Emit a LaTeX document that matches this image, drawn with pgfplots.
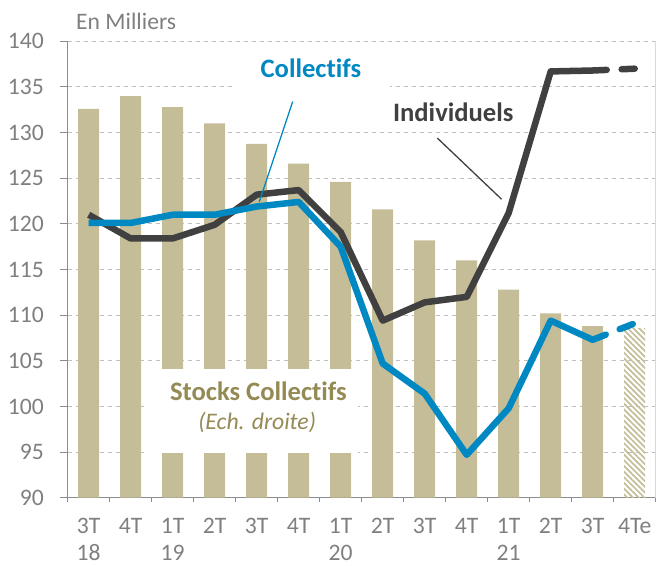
\documentclass[border=0pt]{standalone}
\usepackage{fontspec}
\setmainfont{Carlito}[Ligatures=NoCommon]
\usepackage{pgfplots}
\pgfplotsset{compat=1.18}
\usetikzlibrary{patterns.meta}

\definecolor{tanbar}{HTML}{C4BD97}
\definecolor{tanlab}{HTML}{948A54}
\definecolor{bluec}{HTML}{0088C2}
\definecolor{darkg}{HTML}{404040}
\definecolor{gridc}{HTML}{BFBFBF}
\definecolor{labc}{HTML}{7F7F7F}
\definecolor{axc}{HTML}{8C8C8C}
\definecolor{rightc}{HTML}{D9D9D9}

\begin{document}
\begin{tikzpicture}
\begin{axis}[
  scale only axis, width=588bp, height=456.4bp,
  xmin=-0.5, xmax=13.5, ymin=90, ymax=140,
  axis x line*=bottom, axis y line*=left,
  axis line style={axc, line width=1bp, -},
  ytick={90,95,...,140},
  xtick={0,...,13},
  xticklabels={{3T\\18},{4T},{1T\\19},{2T},{3T},{4T},{1T\\20},{2T},{3T},{4T},{1T\\21},{2T},{3T},{4Te}},
  minor xtick={-0.5,0.5,...,13.5},
  tick align=outside,
  major tick length=7.7bp, minor tick length=4.5bp,
  major x tick style={draw=none},
  tick style={axc, line width=1bp},
  ymajorgrids, grid style={gridc, dash pattern=on 4bp off 4bp, line width=1bp},
  ticklabel style={font=\fontsize{23.7}{26.5}\selectfont, text=labc},
  /pgf/number format/assume math mode=true,
  yticklabel style={anchor=east, inner sep=0pt, xshift=-16bp},
  xticklabel style={align=center, anchor=north, inner sep=0pt, yshift=-13bp},
]
\addplot[ybar, bar width=0.5, fill=tanbar, draw=none] coordinates {(0,132.6)(1,134.0)(2,132.8)(3,131.0)(4,128.75)(5,126.6)(6,124.6)(7,121.6)(8,118.2)(9,116.0)(10,112.8)(11,110.2)(12,108.8)};
\addplot[ybar, bar width=0.5, draw=none, pattern={Lines[angle=-45,distance=4bp,line width=1.7bp]}, pattern color=tanbar] coordinates {(13,108.5)};

\fill[white] (axis cs:1.41,94.85) rectangle (axis cs:6.41,104.1);
\fill[white] (axis cs:3.49,133.8) rectangle (axis cs:7.17,139.2);

\addplot[darkg, line width=6.5bp, line join=round, mark=none] coordinates {(0,121.0)(1,118.4)(2,118.4)(3,119.9)(4,123.2)(5,123.7)(6,119.1)(7,109.4)(8,111.4)(9,112.0)(10,121.2)(11,136.7)(12,136.8)};
\addplot[darkg, line width=6.5bp, line cap=round, dash pattern=on 14bp off 15bp, mark=none] coordinates {(12,136.8)(13,137.0)};
\addplot[bluec, line width=6.5bp, line join=round, mark=none] coordinates {(0,120.1)(1,120.1)(2,121.0)(3,121.0)(4,121.9)(5,122.4)(6,117.5)(7,104.7)(8,101.4)(9,94.7)(10,99.8)(11,109.4)(12,107.3)};
\addplot[bluec, line width=6.5bp, line cap=round, dash pattern=on 14bp off 15bp, mark=none] coordinates {(12,107.3)(13,109.1)};

\node[font=\bfseries\fontsize{26.7}{31}\selectfont, text=bluec] at (axis cs:5.29,137.08) {Collectifs};
\draw[bluec, line width=1.3bp] (axis cs:4.857,133.4) -- (axis cs:4.06,122.4);
\node[font=\bfseries\fontsize{26.7}{31}\selectfont, text=darkg] at (axis cs:8.68,132.2) {Individuels};
\draw[darkg, line width=1.3bp] (axis cs:8.30,129.4) -- (axis cs:9.83,122.7);
\node[font=\bfseries\fontsize{26.7}{31}\selectfont, text=tanlab] at (axis cs:4.04,101.66) {Stocks Collectifs};
\node[font=\itshape\fontsize{23.8}{28}\selectfont, text=tanlab] at (axis cs:4.01,98.2) {(Ech. droite)};
\end{axis}
\draw[rightc, line width=1bp] (current axis.south east) -- (current axis.north east);
\node[anchor=base west, inner sep=0pt, font=\fontsize{23.7}{28}\selectfont, text=labc] at ([xshift=8.3bp,yshift=12bp]current axis.north west) {En Milliers};
\pgfresetboundingbox
\path[use as bounding box] ([xshift=-67.7bp,yshift=-68.3bp]current axis.south west) rectangle ++(656bp,566bp);
\end{tikzpicture}
\end{document}
